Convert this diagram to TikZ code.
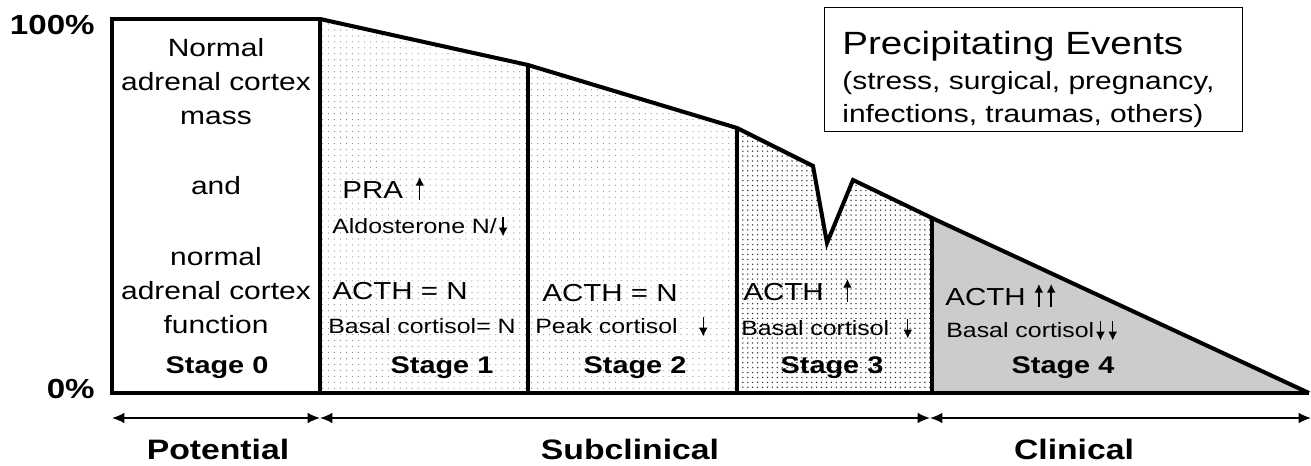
\documentclass[tikz,border=0pt]{standalone}
\usepackage{fontspec}
\setmainfont{Liberation Sans}[FakeStretch=1.2]
\usetikzlibrary{arrows.meta,patterns.meta}
\definecolor{stagegray}{gray}{0.8}
\newcommand{\uparr}{\tikz[baseline=0pt]\draw[line width=0.8pt,-{Latex[length=5pt,width=5pt]}] (0pt,-1pt) -- (0pt,12pt);}
\newcommand{\dnarr}{\tikz[baseline=0pt]\draw[line width=0.8pt,-{Latex[length=5pt,width=5pt]}] (0pt,9pt) -- (0pt,-2pt);}

\begin{document}
\begin{tikzpicture}[x=0.02cm,y=-0.02cm,
	outline/.style={line width=2.3pt,line join=miter},
	lightdots/.style={pattern={Dots[distance=3.4pt,radius=0.35pt]},pattern color=black!45},
	densedots/.style={pattern={Dots[distance=2.8pt,radius=0.45pt]},pattern color=black!80},
	txt/.style={anchor=base west,inner sep=0pt,font=\fontsize{14}{17}\selectfont},
	smalltxt/.style={anchor=base west,inner sep=0pt,font=\fontsize{11.8}{14}\selectfont},
	stagelbl/.style={anchor=base,inner sep=0pt,font=\bfseries\fontsize{13.7}{16}\selectfont},
	phaselbl/.style={anchor=base,inner sep=0pt,font=\bfseries\fontsize{16}{19}\selectfont},
	pctlbl/.style={anchor=base east,inner sep=0pt,font=\bfseries\fontsize{15.7}{18}\selectfont},
	span/.style={line width=0.9pt,{Latex[length=7pt,width=6pt]}-{Latex[length=7pt,width=6pt]}}]
	\useasboundingbox (0,0) rectangle (1311,466);

	\coordinate (b0) at (112,393);
	\coordinate (t0) at (112,19);
	\coordinate (t1) at (320,19);
	\coordinate (b1) at (320,393);
	\coordinate (t2) at (528,65);
	\coordinate (b2) at (528,393);
	\coordinate (t3) at (737,128);
	\coordinate (b3) at (737,393);
	\coordinate (dipl) at (813,166);
	\coordinate (dip) at (827,243);
	\coordinate (dipr) at (853,180);
	\coordinate (t4) at (932,218);
	\coordinate (b4) at (932,393);
	\coordinate (b5) at (1309,393);

	\path[lightdots] (t1) -- (t2) -- (b2) -- (b1) -- cycle;
	\path[lightdots] (t2) -- (t3) -- (b3) -- (b2) -- cycle;
	\path[densedots] (t3) -- (dipl) -- (dip) -- (dipr) -- (t4) -- (b4) -- (b3) -- cycle;
	\fill[stagegray] (t4) -- (b5) -- (b4) -- cycle;

	\draw[outline] (b1) -- (t1) -- (t0) -- (b0) -- (b5);
	\draw[outline] (t1) -- (t2) -- (t3) -- (dipl) -- (dip) -- (dipr) -- (t4) -- (b5);
	\draw[outline] (t2) -- (b2);
	\draw[outline] (t3) -- (b3);
	\draw[outline] (t4) -- (b4);

	\node[pctlbl] (full) at (95,35) {100\%};
	\node[pctlbl] (zero) at (95,398) {0\%};

	\node[align=center,inner sep=0pt,font=\fontsize{14.2}{19.3}\selectfont] (normal) at (216,186) {Normal\\adrenal cortex\\mass\\[21pt]and\\[21pt]normal\\adrenal cortex\\function};

	\node[txt] (pra) at (342,198) {PRA\hspace{7pt}\uparr};
	\node[smalltxt] (aldo) at (332,233) {Aldosterone N/\hspace{1pt}\dnarr};
	\node[txt] (acth1) at (332,299) {ACTH = N};
	\node[smalltxt] (basal1) at (328,333) {Basal cortisol= N};
	\node[txt] (acth2) at (542,301) {ACTH = N};
	\node[smalltxt] (peak2) at (535,333) {Peak cortisol\hspace{12pt}\dnarr};
	\node[txt] (acth3) at (743,300) {ACTH\hspace{11pt}\uparr};
	\node[smalltxt] (basal3) at (741,335) {Basal cortisol\hspace{8pt}\dnarr};
	\node[txt] (acth4) at (945,305) {ACTH\hspace{5pt}\uparr\hspace{2pt}\uparr};
	\node[smalltxt] (basal4) at (946,337) {Basal cortisol\hspace{1pt}\dnarr\hspace{2pt}\dnarr};

	\node[stagelbl] (stg0) at (217,373) {Stage 0};
	\node[stagelbl] (stg1) at (442,373) {Stage 1};
	\node[stagelbl] (stg2) at (635,373) {Stage 2};
	\node[stagelbl] (stg3) at (832,373) {Stage 3};
	\node[stagelbl] (stg4) at (1063,373) {Stage 4};

	\node[draw,line width=0.8pt,minimum width=418*0.02cm,minimum height=124*0.02cm,anchor=north west] (events) at (824,7) {};
	\node[anchor=base west,inner sep=0pt,font=\fontsize{18.3}{22}\selectfont] (evtitle) at (842,55) {Precipitating Events};
	\node[anchor=base west,inner sep=0pt,font=\fontsize{14.2}{18}\selectfont] (evlist1) at (842,90) {(stress, surgical, pregnancy,};
	\node[anchor=base west,inner sep=0pt,font=\fontsize{14.2}{18}\selectfont] (evlist2) at (842,122) {infections, traumas, others)};

	\coordinate (a0) at (112,418);
	\coordinate (a1) at (320,418);
	\coordinate (a2) at (930,418);
	\coordinate (a3) at (1311,418);
	\draw[span] (a0) -- (a1);
	\draw[span] (a1) -- (a2);
	\draw[span] (a2) -- (a3);

	\node[phaselbl] (potential) at (218,459) {Potential};
	\node[phaselbl] (subclin) at (630,459) {Subclinical};
	\node[phaselbl] (clinical) at (1074,459) {Clinical};
\end{tikzpicture}
\end{document}
